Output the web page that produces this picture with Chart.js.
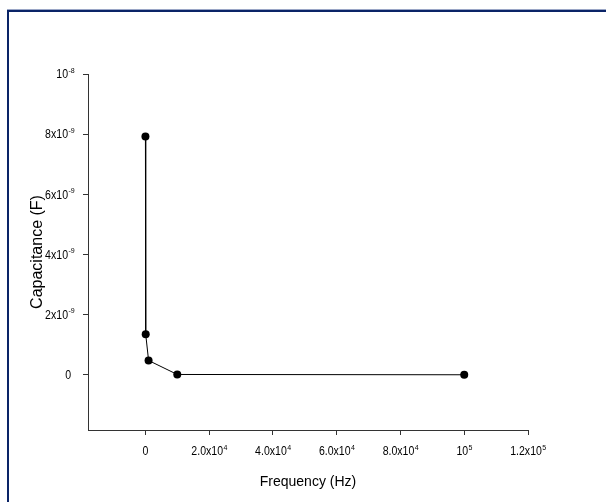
<!DOCTYPE html>
<html>
<head>
<meta charset="utf-8">
<script src="https://cdn.jsdelivr.net/npm/chart.js@4"></script>
<style>
  html, body { margin: 0; padding: 0; background: #fff; overflow: hidden; }
  #wrap { position: relative; width: 606px; height: 502px; }
  #frame {
    position: absolute; left: 7px; top: 10px; width: 700px; height: 600px;
    border-left: 2px solid #0a2467; border-top: 2px solid #0a2467;
    box-shadow: 0 -1px 0 #9aa6c6;
  }
  canvas { position: absolute; left: 0; top: 0; }
</style>
</head>
<body>
<div id="wrap">
  <div id="frame"></div>
  <canvas id="cap" width="606" height="502"></canvas>
</div>
<script>
// measured capacitance vs frequency
const freq = [10, 100, 1000, 10000, 100000];
const capacitance = [7.92e-9, 1.35e-9, 4.8e-10, 1.5e-11, 5e-12];

// tick positions and labels ("^" marks the exponent)
const xTicks = [0, 20000, 40000, 60000, 80000, 100000, 120000];
const xTickLabels = ['0', '2.0x10^4', '4.0x10^4', '6.0x10^4', '8.0x10^4', '10^5', '1.2x10^5'];
const yTicks = [0, 2e-9, 4e-9, 6e-9, 8e-9, 1e-8];
const yTickLabels = ['0', '2x10^-9', '4x10^-9', '6x10^-9', '8x10^-9', '10^-8'];

const xTitle = 'Frequency (Hz)';
const yTitle = 'Capacitance (F)';

const FONT = '"Liberation Sans", Arial, sans-serif';
const AXIS = '#333';
const SQUEEZE = 0.88; // tick labels are a bit narrow

// draws "base^exp" with a small raised exponent; align is 'center' or 'right'
function drawPower(ctx, label, x, y, align, baseRight) {
    const parts = label.split('^');
    const base = parts[0];
    const exp = parts[1] || '';
    ctx.font = '12px ' + FONT;
    const bw = ctx.measureText(base).width * SQUEEZE;
    ctx.font = '8px ' + FONT;
    const ew = exp ? ctx.measureText(exp).width * SQUEEZE : 0;
    let start;
    if (align === 'center') {
        start = x - (bw + ew) / 2;
    } else {
        start = baseRight - bw;
    }
    ctx.save();
    ctx.translate(start, y);
    ctx.scale(SQUEEZE, 1);
    ctx.textAlign = 'left';
    ctx.textBaseline = 'middle';
    ctx.font = '12px ' + FONT;
    ctx.fillText(base, 0, 0);
    if (exp) {
        ctx.font = '8px ' + FONT;
        ctx.fillText(exp, bw / SQUEEZE + 0.5, -4.5);
    }
    ctx.restore();
}

const labelPlugin = {
    id: 'labels',
    afterDraw(chart) {
        const ctx = chart.ctx;
        const xs = chart.scales.x;
        const ys = chart.scales.y;
        ctx.save();
        ctx.fillStyle = '#000';
        xTicks.forEach((v, i) => {
            drawPower(ctx, xTickLabels[i], xs.getPixelForValue(v), xs.bottom + 17, 'center');
        });
        yTicks.forEach((v, i) => {
            const lbl = yTickLabels[i];
            const right = lbl === '0' ? 71 : 68;
            drawPower(ctx, lbl, 0, ys.getPixelForValue(v) + 1, 'right', right);
        });

        // axis titles
        ctx.textAlign = 'center';
        ctx.textBaseline = 'middle';
        ctx.font = '14px ' + FONT;
        ctx.fillText(xTitle, (xs.left + xs.right) / 2, 482);
        ctx.translate(38, 252);
        ctx.rotate(-Math.PI / 2);
        ctx.font = '16px ' + FONT;
        ctx.fillText(yTitle, 0, 0);
        ctx.restore();
    }
};

new Chart(document.getElementById('cap'), {
    type: 'scatter',
    data: {
        datasets: [{
            data: freq.map((f, i) => ({ x: f, y: capacitance[i] })),
            showLine: true,
            borderColor: '#000',
            borderWidth: 1,
            backgroundColor: '#000',
            pointRadius: 4,
            pointHoverRadius: 4,
            pointBorderWidth: 0,
            clip: false
        }]
    },
    options: {
        responsive: false,
        animation: false,
        devicePixelRatio: 1,
        layout: {
            autoPadding: false,
            padding: { left: 83, top: 74, right: 78, bottom: 67 }
        },
        plugins: {
            legend: { display: false },
            tooltip: { enabled: false }
        },
        scales: {
            x: {
                type: 'linear',
                min: -18000,
                max: 120000,
                afterBuildTicks: (scale) => { scale.ticks = xTicks.map(v => ({ value: v })); },
                ticks: { display: false },
                grid: { display: true, drawOnChartArea: false, drawTicks: true, tickLength: 5, color: AXIS },
                border: { display: true, color: AXIS, width: 1 }
            },
            y: {
                type: 'linear',
                min: -1.83e-9,
                max: 1e-8,
                afterBuildTicks: (scale) => { scale.ticks = yTicks.map(v => ({ value: v })); },
                ticks: { display: false },
                grid: { display: true, drawOnChartArea: false, drawTicks: true, tickLength: 5, color: AXIS },
                border: { display: true, color: AXIS, width: 1 }
            }
        }
    },
    plugins: [labelPlugin]
});
</script>
</body>
</html>
